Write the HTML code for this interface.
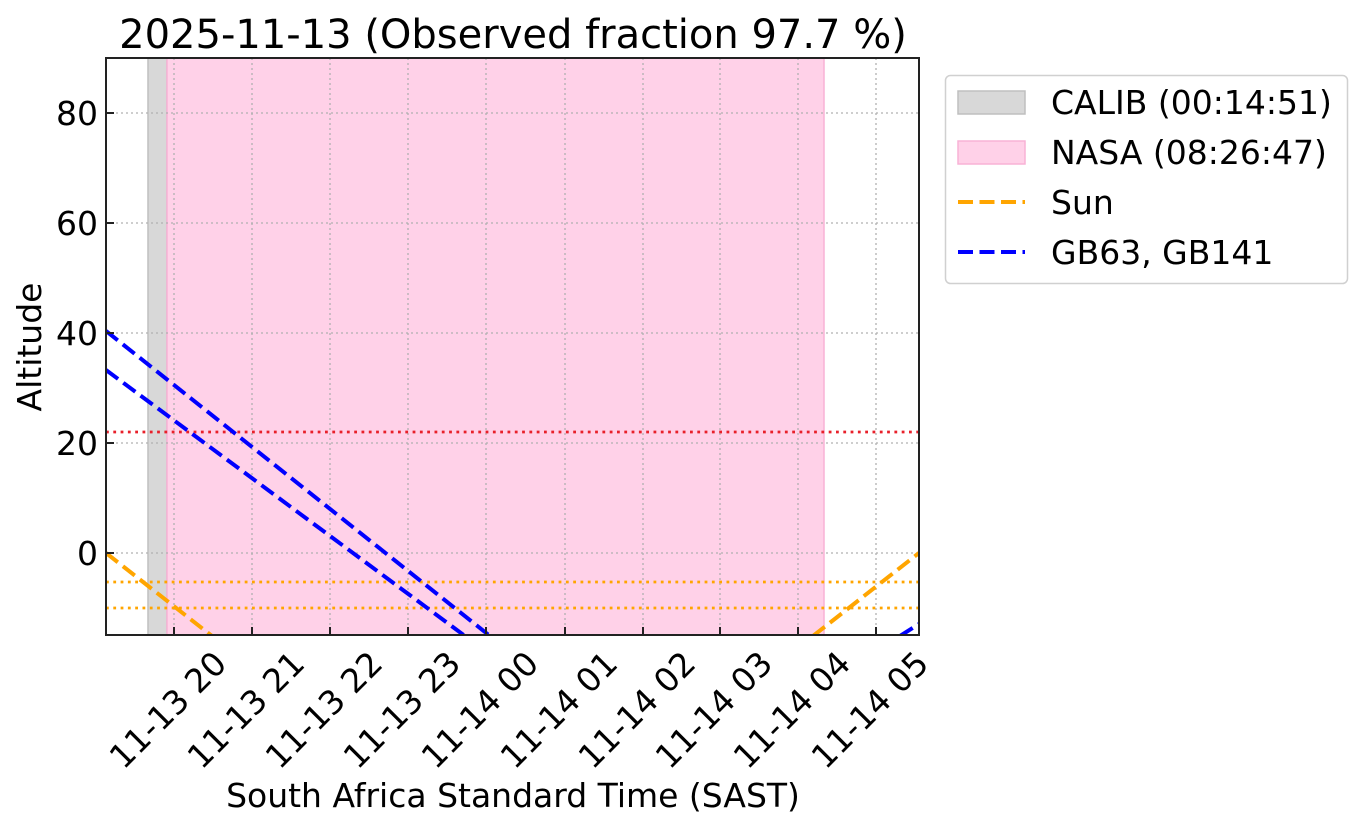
<!DOCTYPE html>
<html><head><meta charset="utf-8"><style>
html,body{margin:0;padding:0;background:#fff;}
svg{display:block;font-family:"DejaVu Sans","Liberation Sans",sans-serif;}
</style></head><body>
<svg width="1363" height="829" viewBox="0 0 1363 829" xmlns="http://www.w3.org/2000/svg">
<defs><clipPath id="ax"><rect x="106" y="58" width="813" height="577"/></clipPath></defs>
<rect width="1363" height="829" fill="#fff"/>
<g clip-path="url(#ax)">
<rect x="148" y="58" width="19" height="577" fill="#d8d8d8" stroke="#bfbfbf" stroke-width="1.5"/>
<rect x="167" y="58" width="657" height="577" fill="#ffd1e8" stroke="#f8b2d6" stroke-width="1.5"/>
<g stroke="#b0b0b0" stroke-width="1.3" stroke-dasharray="2,3">
<line x1="174" y1="58" x2="174" y2="635"/><line x1="252" y1="58" x2="252" y2="635"/><line x1="330" y1="58" x2="330" y2="635"/><line x1="408" y1="58" x2="408" y2="635"/><line x1="486" y1="58" x2="486" y2="635"/><line x1="565" y1="58" x2="565" y2="635"/><line x1="643" y1="58" x2="643" y2="635"/><line x1="720" y1="58" x2="720" y2="635"/><line x1="798" y1="58" x2="798" y2="635"/><line x1="876" y1="58" x2="876" y2="635"/>
<line x1="106" y1="113" x2="919" y2="113"/><line x1="106" y1="223" x2="919" y2="223"/><line x1="106" y1="333" x2="919" y2="333"/><line x1="106" y1="443" x2="919" y2="443"/><line x1="106" y1="553" x2="919" y2="553"/>
</g>
<line x1="106" y1="432" x2="919" y2="432" stroke="#e8202a" stroke-width="2.8" stroke-dasharray="2.8,4.5"/>
<line x1="106" y1="582" x2="919" y2="582" stroke="#ffa500" stroke-width="2.8" stroke-dasharray="2.8,4.5"/>
<line x1="106" y1="608" x2="919" y2="608" stroke="#ffa500" stroke-width="2.8" stroke-dasharray="2.8,4.5"/>
<g fill="none" stroke-width="4" stroke-dasharray="15,6.5">
<line x1="106" y1="553" x2="212" y2="636" stroke="#ffa500"/>
<line x1="813" y1="636" x2="919" y2="553" stroke="#ffa500"/>
<line x1="106" y1="331" x2="490" y2="636" stroke="#0000ff"/>
<line x1="106" y1="370" x2="465" y2="636" stroke="#0000ff"/>
<line x1="900" y1="636" x2="919" y2="624" stroke="#0000ff"/>
</g>
</g>
<rect x="106" y="58" width="813" height="577" fill="none" stroke="#222" stroke-width="2"/>
<g stroke="#222" stroke-width="2">
<line x1="174" y1="635" x2="174" y2="627"/><line x1="252" y1="635" x2="252" y2="627"/><line x1="330" y1="635" x2="330" y2="627"/><line x1="408" y1="635" x2="408" y2="627"/><line x1="486" y1="635" x2="486" y2="627"/><line x1="565" y1="635" x2="565" y2="627"/><line x1="643" y1="635" x2="643" y2="627"/><line x1="720" y1="635" x2="720" y2="627"/><line x1="798" y1="635" x2="798" y2="627"/><line x1="876" y1="635" x2="876" y2="627"/>
<line x1="106" y1="113" x2="114" y2="113"/><line x1="106" y1="223" x2="114" y2="223"/><line x1="106" y1="333" x2="114" y2="333"/><line x1="106" y1="443" x2="114" y2="443"/><line x1="106" y1="553" x2="114" y2="553"/>
</g>
<g font-size="33" fill="#000" text-anchor="end">
<text x="98" y="125">80</text><text x="98" y="235">60</text><text x="98" y="345">40</text><text x="98" y="455">20</text><text x="98" y="565">0</text>
</g>
<g font-size="33" fill="#000" text-anchor="middle">
<text transform="translate(176,718) rotate(-45)">11-13 20</text>
<text transform="translate(254,718) rotate(-45)">11-13 21</text>
<text transform="translate(332,718) rotate(-45)">11-13 22</text>
<text transform="translate(410,718) rotate(-45)">11-13 23</text>
<text transform="translate(488,718) rotate(-45)">11-14 00</text>
<text transform="translate(567,718) rotate(-45)">11-14 01</text>
<text transform="translate(645,718) rotate(-45)">11-14 02</text>
<text transform="translate(722,718) rotate(-45)">11-14 03</text>
<text transform="translate(800,718) rotate(-45)">11-14 04</text>
<text transform="translate(878,718) rotate(-45)">11-14 05</text>
</g>
<text x="513" y="807" font-size="33" text-anchor="middle">South Africa Standard Time (SAST)</text>
<text transform="translate(41,347) rotate(-90)" font-size="33" text-anchor="middle">Altitude</text>
<text x="513" y="48" font-size="40" text-anchor="middle">2025-11-13 (Observed fraction 97.7 %)</text>
<rect x="945.5" y="75.5" width="402" height="208" rx="5" fill="#fff" stroke="#d0d0d0" stroke-width="1.5"/>
<rect x="958" y="91" width="67" height="23" fill="#d8d8d8" stroke="#bfbfbf" stroke-width="1.5"/>
<rect x="958" y="141" width="67" height="23" fill="#ffd1e8" stroke="#f8b2d6" stroke-width="1.5"/>
<line x1="958" y1="202" x2="1025" y2="202" stroke="#ffa500" stroke-width="4" stroke-dasharray="15,6.5"/>
<line x1="958" y1="252" x2="1025" y2="252" stroke="#0000ff" stroke-width="4" stroke-dasharray="15,6.5"/>
<g font-size="33" fill="#000">
<text x="1051" y="114">CALIB (00:14:51)</text>
<text x="1051" y="164">NASA (08:26:47)</text>
<text x="1051" y="214">Sun</text>
<text x="1051" y="264">GB63, GB141</text>
</g>
</svg>
</body></html>
